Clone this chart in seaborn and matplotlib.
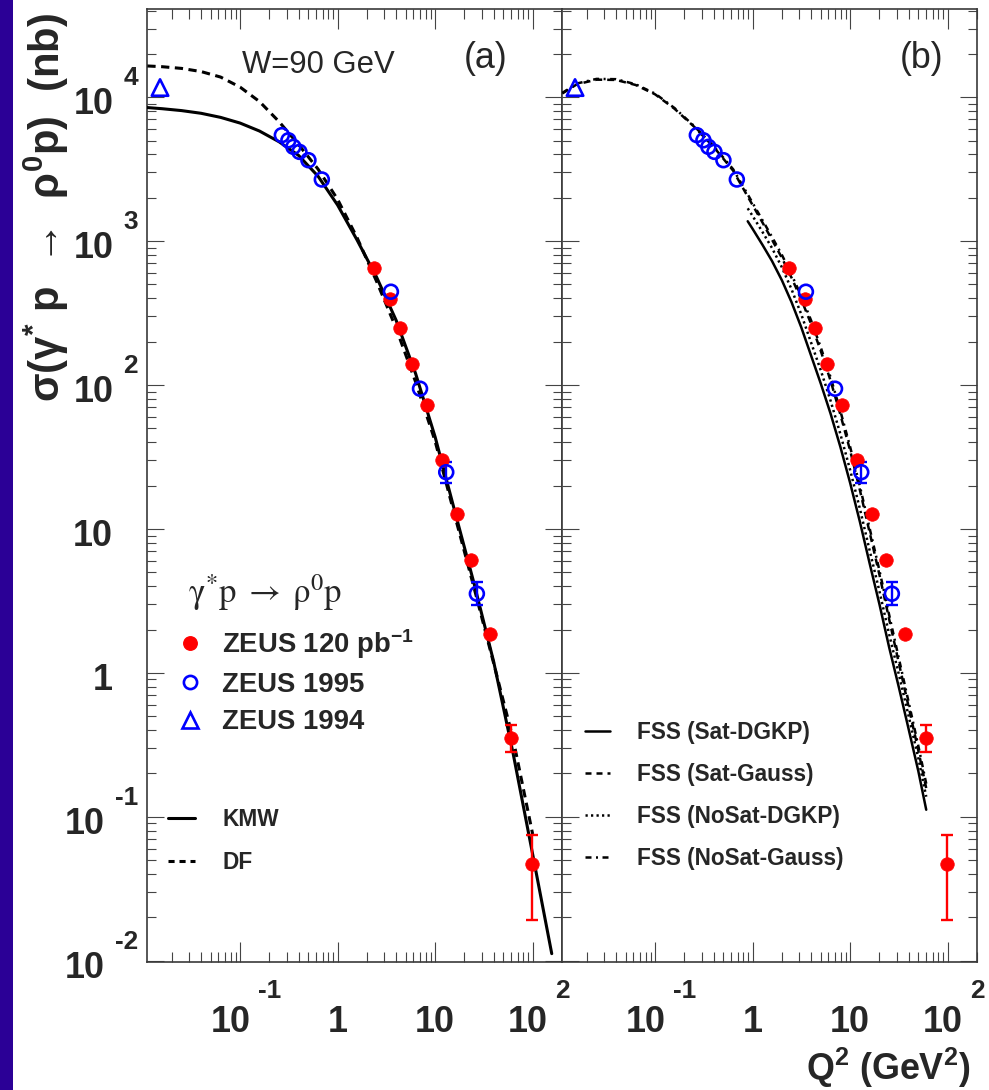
import numpy as np
import matplotlib
matplotlib.use("Agg")
import matplotlib.pyplot as plt
import matplotlib.transforms as mtransforms
from matplotlib import font_manager
from matplotlib.font_manager import FontProperties
from matplotlib.lines import Line2D
from matplotlib.patches import Rectangle
from matplotlib.ticker import LogLocator, NullFormatter
import seaborn as sns

# --- measurements: sigma(gamma* p -> rho0 p) at W = 90 GeV ---------------
zeus120_q2 = [2.37, 3.45, 4.37, 5.81, 8.18, 11.8, 16.9, 23.4, 36.6, 60.1, 98.0]
zeus120_sigma = [653, 395, 248, 140, 72.6, 30.0, 12.7, 6.1, 1.87, 0.352, 0.0467]
zeus120_sigma_hi = [np.nan, np.nan, np.nan, np.nan, np.nan, np.nan, np.nan, np.nan, np.nan, 0.437, 0.0748]
zeus120_sigma_lo = [np.nan, np.nan, np.nan, np.nan, np.nan, np.nan, np.nan, np.nan, np.nan, 0.284, 0.0193]

zeus95_q2 = [0.268, 0.313, 0.352, 0.406, 0.502, 0.689, 3.52, 7.0, 13.0, 26.8]
zeus95_sigma = [5450, 5020, 4520, 4170, 3650, 2680, 445, 94.3, 24.8, 3.55]
zeus95_sigma_hi = [np.nan, np.nan, np.nan, np.nan, np.nan, np.nan, np.nan, np.nan, 29.4, 4.25]
zeus95_sigma_lo = [np.nan, np.nan, np.nan, np.nan, np.nan, np.nan, np.nan, np.nan, 20.9, 2.95]

zeus94_q2 = [0.0151]
zeus94_sigma = [11670]

# --- model curves ----------------------------------------------------------
kmw_q2 = [0.0112, 0.0158, 0.0251, 0.0398, 0.0631, 0.100, 0.158, 0.251, 0.398, 0.631,
          1.00, 1.58, 2.51, 3.98, 6.31, 10.0, 15.8, 25.1, 39.8, 63.1, 100, 157]
kmw_sigma = [8470, 8320, 8070, 7730, 7240, 6610, 5820, 4900, 3940, 2820,
             1780, 1020, 562, 282, 120, 43.6, 13.5, 4.17, 1.20, 0.275, 0.055, 0.0112]

df_q2 = [0.0112, 0.0158, 0.0251, 0.0398, 0.0631, 0.100, 0.158, 0.251, 0.398, 0.631,
         1.00, 1.58, 2.51, 3.98, 6.31, 10.0, 15.8, 25.1, 39.8, 63.1, 100]
df_sigma = [16480, 16290, 15850, 15070, 13800, 11750, 9330, 6760, 4680, 3160,
            1950, 1060, 525, 248, 105, 40.7, 12.6, 3.89, 1.17, 0.347, 0.0759]

fss_gauss_q2 = [0.0112, 0.0158, 0.0251, 0.0398, 0.0631, 0.100, 0.158, 0.251, 0.398, 0.631,
                0.891, 1.00, 1.26, 1.58, 2.00, 2.51, 3.16, 3.98, 5.01, 6.31, 7.94,
                10.0, 12.6, 15.8, 20.0, 25.1, 31.6, 39.8, 50.1, 60.3]
fss_sat_gauss = [10620, 12300, 13240, 13180, 12160, 10470, 8320, 6240, 4520, 3090,
                 2040, 1780, 1350, 1023, 764, 556, 392, 266, 172, 107, 62.4,
                 35.1, 18.6, 9.55, 4.79, 2.37, 1.17, 0.582, 0.288, 0.158]
fss_nosat_gauss = [10720, 12450, 13400, 13340, 12300, 10590, 8410, 6310, 4570, 3160,
                   2110, 1840, 1400, 1070, 800, 585, 414, 281, 182, 113, 66.1,
                   37.2, 19.8, 10.2, 5.13, 2.54, 1.26, 0.627, 0.310, 0.170]

fss_dgkp_q2 = [0.891, 1.00, 1.26, 1.58, 2.00, 2.51, 3.16, 3.98, 5.01, 6.31, 7.94,
               10.0, 12.6, 15.8, 20.0, 25.1, 31.6, 39.8, 50.1, 60.3]
fss_sat_dgkp = [1374, 1216, 944, 728, 533, 376, 251, 160, 102, 63.1, 37.2,
                20.9, 11.2, 5.82, 2.99, 1.51, 0.794, 0.407, 0.207, 0.112]
fss_nosat_dgkp = [1690, 1496, 1160, 896, 656, 462, 309, 197, 126, 77.6, 45.7,
                  25.7, 13.8, 7.16, 3.68, 1.86, 0.977, 0.501, 0.255, 0.138]

# --- tick labels -------------------------------------------------------------
x_ticks = [0.1, 1, 10, 100]
x_tick_base = ["10", "1", "10", "10"]
x_tick_exp = ["-1", "", "", "2"]
y_ticks = [1e4, 1e3, 1e2, 10, 1, 0.1, 0.01]
y_tick_base = ["10", "10", "10", "10", "1", "10", "10"]
y_tick_exp = ["4", "3", "2", "", "", "-1", "-2"]

# --- style -------------------------------------------------------------------
sns.set_theme(style="ticks")
installed = {f.name for f in font_manager.fontManager.ttflist}
NARROW = "Liberation Sans Narrow" in installed
SANS = "Liberation Sans Narrow" if NARROW else "Liberation Sans"
K = 1.0 if NARROW else 0.86
plt.rcParams["font.family"] = [SANS, "DejaVu Sans"]
plt.rcParams["mathtext.fontset"] = "custom"
plt.rcParams["mathtext.rm"] = SANS + ":bold"
plt.rcParams["mathtext.it"] = SANS + ":bold"
plt.rcParams["mathtext.bf"] = SANS + ":bold"
plt.rcParams["mathtext.default"] = "rm"


def fp(size, bold=True):
    return FontProperties(family=[SANS, "DejaVu Sans"],
                          weight="bold" if bold else "normal", size=size * K)


W, H = 989, 1090
fig = plt.figure(figsize=(W / 100, H / 100), dpi=100)
fig.patch.set_facecolor("white")
fig.patches.append(Rectangle((0, 0), 13 / W, 1, transform=fig.transFigure,
                             facecolor="#2b0096", edgecolor="none", zorder=0))


def px_box(x0, y0, x1, y1):
    return [x0 / W, 1 - y1 / H, (x1 - x0) / W, (y1 - y0) / H]


ax1 = fig.add_axes(px_box(147, 9, 562, 962))
ax2 = fig.add_axes(px_box(562, 9, 977, 962))

for ax in (ax1, ax2):
    ax.set_xscale("log")
    ax.set_yscale("log")
    ax.set_xlim(0.0111, 200)
    ax.set_ylim(0.0098, 4.1e4)
    for axis in (ax.xaxis, ax.yaxis):
        axis.set_major_locator(LogLocator(base=10, numticks=30))
        axis.set_minor_locator(LogLocator(base=10, subs=np.arange(2, 10), numticks=30))
        axis.set_minor_formatter(NullFormatter())
    ax.tick_params(which="both", direction="in", top=True, right=True,
                   labelbottom=False, labelleft=False, color="#444444", width=0.8)
    ax.tick_params(axis="x", which="major", length=14.4)
    ax.tick_params(axis="x", which="minor", length=7.2)
    ax.tick_params(axis="y", which="major", length=12.5)
    ax.tick_params(axis="y", which="minor", length=6.8)
    for sp in ax.spines.values():
        sp.set_color("#3a3a3a")
        sp.set_linewidth(1.2)
    ax.set_facecolor("white")

# --- panel (a): KMW and DF ---------------------------------------------------
sns.lineplot(x=kmw_q2, y=kmw_sigma, ax=ax1, color="black", lw=2.2,
             sort=False, estimator=None, zorder=3)
sns.lineplot(x=df_q2, y=df_sigma, ax=ax1, color="black", lw=2.2,
             linestyle=(0, (2.7, 1.8)), sort=False, estimator=None, zorder=3)

# --- panel (b): FSS variants -------------------------------------------------
sns.lineplot(x=fss_dgkp_q2, y=fss_sat_dgkp, ax=ax2, color="black", lw=1.8,
             sort=False, estimator=None, zorder=3)
sns.lineplot(x=fss_gauss_q2, y=fss_sat_gauss, ax=ax2, color="black", lw=1.8,
             linestyle=(0, (2.8, 2.0)), sort=False, estimator=None, zorder=3)
sns.lineplot(x=fss_dgkp_q2, y=fss_nosat_dgkp, ax=ax2, color="black", lw=1.8,
             linestyle=(0, (0.9, 1.3)), sort=False, estimator=None, zorder=3)
sns.lineplot(x=fss_gauss_q2, y=fss_nosat_gauss, ax=ax2, color="black", lw=1.8,
             linestyle=(0, (2.4, 1.8, 0.8, 1.8)), sort=False, estimator=None, zorder=3)
for ax in (ax1, ax2):
    ax.set_xlabel("")
    ax.set_ylabel("")


# --- data points in both panels ----------------------------------------------
def draw_points(ax):
    q = np.array(zeus120_q2)
    s = np.array(zeus120_sigma)
    hi = np.array(zeus120_sigma_hi)
    lo = np.array(zeus120_sigma_lo)
    m = ~np.isnan(hi)
    ax.errorbar(q[m], s[m], yerr=[s[m] - lo[m], hi[m] - s[m]], fmt="none",
                ecolor="#ff0000", elinewidth=1.7, capsize=4.3, capthick=1.7, zorder=4)
    q = np.array(zeus95_q2)
    s = np.array(zeus95_sigma)
    hi = np.array(zeus95_sigma_hi)
    lo = np.array(zeus95_sigma_lo)
    m = ~np.isnan(hi)
    ax.errorbar(q[m], s[m], yerr=[s[m] - lo[m], hi[m] - s[m]], fmt="none",
                ecolor="#0000ff", elinewidth=1.7, capsize=4.3, capthick=1.7, zorder=4)
    sns.scatterplot(x=zeus120_q2, y=zeus120_sigma, ax=ax, marker="o", s=95,
                    color="#ff0000", edgecolor="#ff0000", linewidth=0.5, zorder=5)
    sns.scatterplot(x=zeus95_q2, y=zeus95_sigma, ax=ax, marker="o", s=100,
                    facecolor="none", edgecolor="#0000ff", linewidth=1.9, zorder=6)
    sns.scatterplot(x=zeus94_q2, y=zeus94_sigma, ax=ax, marker="^", s=140,
                    facecolor="none", edgecolor="#0000ff", linewidth=1.9, zorder=6)


draw_points(ax1)
draw_points(ax2)

# --- tick labels ---------------------------------------------------------------
renderer = fig.canvas.get_renderer()
TICK_FP = fp(30)
EXP_FP = fp(22)


def width_px(s, prop):
    t = fig.text(0, 0, s, fontproperties=prop)
    w = t.get_window_extent(renderer).width
    t.remove()
    return w


def shifted(trans, dx, dy):
    return trans + mtransforms.ScaledTranslation(dx / 100, dy / 100, fig.dpi_scale_trans)


for ax in (ax1, ax2):
    tx = ax.get_xaxis_transform()
    for val, base, exp in zip(x_ticks, x_tick_base, x_tick_exp):
        wb = width_px(base, TICK_FP)
        we = width_px(exp, EXP_FP) if exp else 0.0
        gap = 8 if exp else 0
        left = 6 - (wb + gap + we) / 2 if exp else -wb / 2
        ax.text(val, 0, base, fontproperties=TICK_FP, ha="left", va="baseline",
                transform=shifted(tx, left, -70), clip_on=False)
        if exp:
            ax.text(val, 0, exp, fontproperties=EXP_FP, ha="left", va="baseline",
                    transform=shifted(tx, left + wb + gap, -36), clip_on=False)

ty = ax1.get_yaxis_transform()
for val, base, exp in zip(y_ticks, y_tick_base, y_tick_exp):
    if exp:
        we = width_px(exp, EXP_FP)
        ax1.text(0, val, exp, fontproperties=EXP_FP, ha="right", va="baseline",
                 transform=shifted(ty, -9, 12), clip_on=False)
        ax1.text(0, val, base, fontproperties=TICK_FP, ha="right", va="baseline",
                 transform=shifted(ty, -9 - we - 10, -17), clip_on=False)
    else:
        ax1.text(0, val, base, fontproperties=TICK_FP, ha="right", va="baseline",
                 transform=shifted(ty, -34, -17), clip_on=False)

# --- axis titles ---------------------------------------------------------------
ax1.text(-0.243, (962 - 13) / 953, "σ(γ$^{*}$ p  →  ρ$^{0}$p)  (nb)", rotation=90,
         fontproperties=fp(35), ha="center", va="top",
         transform=ax1.transAxes, clip_on=False)
ax2.text(0.983, (962 - 1080) / 953, "Q$^{2}$ (GeV$^{2}$)", fontproperties=fp(30),
         ha="right", va="baseline", transform=ax2.transAxes, clip_on=False)

# --- panel annotations -----------------------------------------------------------
ax1.text((242 - 147) / 415, (962 - 73) / 953, "W=90 GeV", fontproperties=fp(26, bold=False),
         ha="left", va="baseline", transform=ax1.transAxes)
ax1.text((486 - 147) / 415, (962 - 59) / 953, "(a)", fontproperties=fp(30, bold=False),
         ha="center", va="center", transform=ax1.transAxes)
ax2.text((922 - 562) / 415, (962 - 59) / 953, "(b)", fontproperties=fp(30, bold=False),
         ha="center", va="center", transform=ax2.transAxes)

# --- legends -----------------------------------------------------------------------
ax1.text((188 - 147) / 415, (962 - 593) / 953,
         r"$\gamma^{*}\mathrm{p}\;\rightarrow\;\rho^{0}\mathrm{p}$",
         fontsize=25, math_fontfamily="stix", ha="left", va="center", transform=ax1.transAxes)

data_handles = [
    Line2D([], [], ls="none", marker="o", markersize=9.7, color="#ff0000"),
    Line2D([], [], ls="none", marker="o", markersize=9.5, markerfacecolor="none",
           markeredgecolor="#0000ff", markeredgewidth=1.9),
    Line2D([], [], ls="none", marker="^", markersize=11.5, markerfacecolor="none",
           markeredgecolor="#0000ff", markeredgewidth=1.9),
]
data_labels = ["ZEUS 120 pb$^{-1}$", "ZEUS 1995", "ZEUS 1994"]
leg_data = ax1.legend(data_handles, data_labels, loc="upper left",
                      bbox_to_anchor=((176 - 147) / 415, (962 - 627) / 953),
                      frameon=False, borderpad=0, borderaxespad=0, prop=fp(23),
                      handlelength=1.0, handletextpad=0.67, labelspacing=0.41)
ax1.add_artist(leg_data)

model_handles = [
    Line2D([], [], color="black", lw=2.2),
    Line2D([], [], color="black", lw=2.2, linestyle=(0, (2.0, 1.6))),
]
ax1.legend(model_handles, ["KMW", "DF"], loc="upper left",
           bbox_to_anchor=((168 - 147) / 415, (962 - 808) / 953),
           frameon=False, borderpad=0, borderaxespad=0, prop=fp(19),
           handlelength=1.19, handletextpad=1.2, labelspacing=0.86)

fss_handles = [
    Line2D([], [], color="black", lw=1.8),
    Line2D([], [], color="black", lw=1.8, linestyle=(0, (2.4, 2.0))),
    Line2D([], [], color="black", lw=1.8, linestyle=(0, (0.9, 1.3))),
    Line2D([], [], color="black", lw=1.8, linestyle=(0, (2.4, 1.8, 0.8, 1.8))),
]
ax2.legend(fss_handles, ["FSS (Sat-DGKP)", "FSS (Sat-Gauss)", "FSS (NoSat-DGKP)", "FSS (NoSat-Gauss)"],
           loc="upper left", bbox_to_anchor=((585 - 562) / 415, (962 - 721) / 953),
           frameon=False, borderpad=0, borderaxespad=0, prop=fp(19),
           handlelength=1.08, handletextpad=1.19, labelspacing=0.84)

fig.savefig("out.png", dpi=100, facecolor="white")
